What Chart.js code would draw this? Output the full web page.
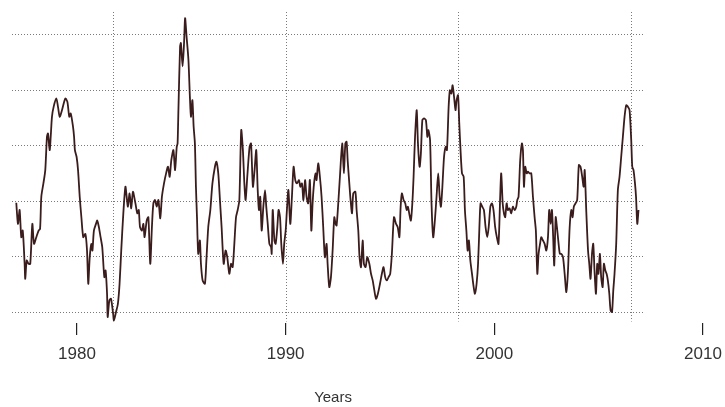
<!DOCTYPE html>
<html>
<head>
<meta charset="utf-8">
<script src="https://cdn.jsdelivr.net/npm/chart.js@4/dist/chart.umd.min.js"></script>
<style>
html,body{margin:0;padding:0;background:#fff;}
#c{display:block;}
</style>
</head>
<body>
<canvas id="c" width="725" height="407"></canvas>
<script>
// ---- data (decimal years, index level) ----
const years = [
1977.09,1977.17,1977.25,1977.33,1977.40,1977.49,1977.52,1977.59,1977.68,1977.76,1977.86,1977.94,
1978.05,1978.16,1978.23,1978.29,1978.39,1978.48,1978.56,1978.61,1978.69,1978.74,1978.80,1978.88,
1979.01,1979.09,1979.17,1979.28,1979.44,1979.54,1979.63,1979.70,1979.81,1979.86,1979.90,1979.98,
1980.05,1980.13,1980.21,1980.30,1980.40,1980.48,1980.54,1980.61,1980.69,1980.74,1980.81,1980.91,1980.97,
1981.05,1981.13,1981.21,1981.31,1981.37,1981.44,1981.47,1981.55,1981.63,1981.73,1981.77,1981.87,1981.96,
1982.04,1982.12,1982.22,1982.32,1982.38,1982.44,1982.52,1982.60,1982.68,1982.80,1982.89,1982.96,
1983.02,1983.11,1983.18,1983.24,1983.34,1983.42,1983.51,1983.59,1983.66,1983.74,1983.82,1983.90,1983.99,
1984.07,1984.17,1984.27,1984.36,1984.44,1984.52,1984.62,1984.70,1984.78,1984.82,1984.86,1984.94,1984.98,
1985.06,1985.13,1985.18,1985.25,1985.34,1985.41,1985.46,1985.53,1985.59,1985.65,1985.70,1985.75,1985.81,1985.89,1985.94,
1986.02,1986.13,1986.20,1986.29,1986.39,1986.49,1986.61,1986.68,1986.77,1986.85,1986.93,
1987.03,1987.12,1987.20,1987.30,1987.38,1987.46,1987.54,1987.62,1987.70,1987.78,1987.87,1987.95,
1988.02,1988.08,1988.16,1988.27,1988.34,1988.43,1988.51,1988.59,1988.66,1988.72,1988.78,1988.85,1988.93,
1989.01,1989.07,1989.14,1989.22,1989.30,1989.33,1989.38,1989.46,1989.52,1989.60,1989.66,1989.73,1989.79,1989.87,1989.93,
1990.00,1990.06,1990.13,1990.22,1990.30,1990.38,1990.46,1990.54,1990.64,1990.70,1990.78,1990.85,1990.93,
1991.00,1991.08,1991.16,1991.23,1991.29,1991.36,1991.44,1991.48,1991.56,1991.64,1991.72,1991.80,1991.88,1991.96,
1992.01,1992.09,1992.17,1992.25,1992.33,1992.39,1992.44,1992.52,1992.60,1992.71,1992.79,1992.86,1992.92,1992.97,
1993.05,1993.11,1993.18,1993.24,1993.34,1993.40,1993.48,1993.54,1993.61,1993.69,1993.75,1993.83,1993.91,
1994.01,1994.09,1994.17,1994.25,1994.33,1994.42,1994.52,1994.61,1994.69,1994.77,1994.85,1994.93,
1995.01,1995.09,1995.19,1995.29,1995.37,1995.45,1995.51,1995.57,1995.65,1995.73,1995.80,1995.86,1995.92,
1996.00,1996.07,1996.13,1996.20,1996.28,1996.34,1996.42,1996.48,1996.55,1996.63,1996.72,1996.79,1996.84,1996.92,1996.99,
1997.07,1997.15,1997.23,1997.31,1997.38,1997.44,1997.51,1997.59,1997.67,1997.73,1997.81,1997.87,1997.94,
1998.00,1998.07,1998.14,1998.19,1998.26,1998.32,1998.38,1998.45,1998.53,1998.59,1998.66,1998.72,1998.78,1998.85,1998.93,
1999.01,1999.07,1999.15,1999.22,1999.29,1999.34,1999.42,1999.50,1999.58,1999.66,1999.73,1999.81,1999.88,1999.96,
2000.04,2000.12,2000.20,2000.28,2000.33,2000.40,2000.46,2000.52,2000.59,2000.65,2000.73,2000.81,2000.89,2000.97,
2001.05,2001.10,2001.16,2001.24,2001.32,2001.37,2001.42,2001.48,2001.55,2001.61,2001.69,2001.77,2001.85,2001.93,2001.99,
2002.06,2002.12,2002.19,2002.25,2002.33,2002.41,2002.49,2002.57,2002.63,2002.70,2002.76,2002.82,2002.87,2002.94,
2003.00,2003.08,2003.14,2003.21,2003.29,2003.37,2003.45,2003.53,2003.61,2003.69,2003.75,2003.81,2003.89,2003.97,
2004.05,2004.13,2004.21,2004.28,2004.33,2004.41,2004.49,2004.55,2004.61,2004.68,2004.74,2004.80,2004.87,2004.93,2004.99,
2005.06,2005.12,2005.19,2005.25,2005.32,2005.38,2005.44,2005.51,2005.57,2005.64,2005.70,2005.76,2005.84,2005.92,
2006.00,2006.08,2006.16,2006.24,2006.32,2006.40,2006.48,2006.56,2006.61,2006.67,2006.74,2006.79,2006.85,2006.91
];
const values = [
1.96,1.58,1.83,1.34,1.46,0.86,0.59,0.92,0.86,0.86,1.58,1.22,
1.34,1.46,1.49,2.07,2.31,2.55,3.15,3.21,2.91,3.15,3.51,3.69,
3.84,3.69,3.51,3.63,3.84,3.78,3.51,3.57,3.33,3.15,2.91,2.79,
2.55,2.07,1.70,1.34,1.40,1.10,0.50,0.98,1.22,1.10,1.46,1.58,1.64,
1.52,1.34,1.16,0.62,0.74,0.32,-0.10,0.20,0.23,-0.04,-0.16,-0.01,0.14,
0.50,1.10,1.77,2.25,2.07,1.89,2.13,1.86,2.16,1.95,1.77,1.83,
1.52,1.46,1.58,1.34,1.64,1.70,0.86,1.52,1.95,2.01,1.89,2.01,1.68,
2.07,2.31,2.49,2.61,2.43,2.73,2.91,2.55,2.97,3.03,3.63,4.78,4.84,
4.42,4.84,5.29,4.96,4.54,3.87,3.51,3.81,3.33,3.03,2.25,1.70,1.04,1.28,0.86,
0.56,0.50,0.92,1.52,1.83,2.31,2.61,2.70,2.49,2.01,1.52,
0.86,1.10,0.98,0.68,0.86,0.80,1.22,1.70,1.83,2.01,3.27,2.91,
2.31,2.01,2.43,2.97,3.03,2.25,2.55,2.91,2.19,1.83,2.07,1.46,1.89,
2.19,1.89,1.58,1.22,1.16,1.04,1.83,1.28,1.22,1.52,1.83,1.70,1.22,0.86,1.22,
1.46,1.83,2.19,1.58,2.07,2.61,2.37,2.31,2.37,2.25,2.31,2.01,2.37,
2.07,1.95,2.37,1.46,1.95,2.31,2.49,2.37,2.67,2.43,2.07,1.52,0.98,1.22,
0.86,0.44,0.62,1.10,1.70,1.58,1.55,1.95,2.43,3.03,2.49,3.03,3.06,2.73,
2.31,2.01,1.77,2.13,2.16,1.83,1.46,0.98,0.80,1.28,0.86,0.80,0.98,
0.86,0.68,0.56,0.38,0.23,0.32,0.50,0.68,0.80,0.62,0.56,0.62,
0.68,1.04,1.70,1.58,1.52,1.34,1.89,2.13,2.01,1.95,1.83,1.89,1.77,
1.64,1.95,2.43,3.15,3.63,3.03,2.61,2.85,3.45,3.48,3.45,3.15,3.27,3.09,1.95,
1.34,1.64,2.07,2.49,2.07,1.89,2.25,2.79,2.97,2.91,3.69,3.99,3.93,
4.08,3.87,3.63,3.81,3.90,3.39,2.91,2.49,2.43,1.83,1.46,1.10,1.28,0.92,0.68,
0.44,0.32,0.50,0.86,1.58,1.95,1.89,1.83,1.52,1.34,1.52,1.89,1.95,1.83,
1.52,1.34,1.22,2.07,2.49,1.95,1.77,1.70,1.95,1.83,1.86,1.77,1.89,1.83,
1.89,2.01,2.07,2.73,3.03,2.91,2.25,2.61,2.49,2.52,2.49,2.49,2.07,1.70,1.46,
0.68,1.04,1.22,1.34,1.28,1.22,1.10,1.34,1.83,1.58,1.83,1.34,0.83,1.70,
1.52,1.22,1.04,1.04,0.98,0.68,0.35,0.74,1.52,1.83,1.70,1.89,1.95,2.01,
2.64,2.61,2.43,2.25,2.55,1.77,1.10,0.86,0.59,1.04,1.22,0.74,0.32,0.86,0.68,
1.04,0.62,0.44,0.86,0.74,0.68,0.56,0.32,0.02,-0.01,0.38,0.68,1.22,2.19,
2.43,2.79,3.15,3.51,3.72,3.69,3.63,3.09,2.61,2.55,2.31,2.07,1.58,1.83
];
const tickYears = [1980, 1990, 2000, 2010];
const gridLevels = [0, 1, 2, 3, 4, 5];
const gridYears = [1981.74, 1990, 1998.27, 2006.55];
const axisTitle = 'Years';

// ---- scale extents ----
const X_MIN = 1976.885, X_MAX = 2011.054;
const Y_MIN = -0.2, Y_MAX = 5.4;
const GRID_X_END = 2007.22;   // horizontal dotted lines end here
const GRID_Y_BOTTOM = -0.18;  // vertical dotted lines end here
const TITLE_CENTER_YEAR = 1992.27; // axis title is centred under the plotted panel

const dottedGrid = {
  id: 'dottedGrid',
  beforeDatasetsDraw(chart) {
    const {ctx, scales: {x, y}} = chart;
    ctx.save();
    ctx.strokeStyle = '#7a7a7a';
    ctx.lineWidth = 1;
    ctx.setLineDash([1, 2]);
    gridLevels.forEach(v => {
      const py = Math.round(y.getPixelForValue(v)) + 0.5;
      ctx.beginPath();
      ctx.moveTo(x.getPixelForValue(X_MIN), py);
      ctx.lineTo(x.getPixelForValue(GRID_X_END), py);
      ctx.stroke();
    });
    gridYears.forEach(v => {
      const px = Math.round(x.getPixelForValue(v)) + 0.5;
      ctx.beginPath();
      ctx.moveTo(px, y.getPixelForValue(Y_MAX));
      ctx.lineTo(px, y.getPixelForValue(GRID_Y_BOTTOM));
      ctx.stroke();
    });
    ctx.restore();
  }
};

const axisTitlePlugin = {
  id: 'axisTitlePlugin',
  afterDraw(chart) {
    const {ctx, scales: {x}} = chart;
    ctx.save();
    ctx.fillStyle = '#333';
    ctx.font = '15px "Liberation Sans", Arial, sans-serif';
    ctx.textAlign = 'center';
    ctx.textBaseline = 'middle';
    ctx.fillText(axisTitle, x.getPixelForValue(TITLE_CENTER_YEAR), x.bottom - 9);
    ctx.restore();
  }
};

new Chart(document.getElementById('c'), {
  type: 'line',
  data: {
    datasets: [{
      data: years.map((yr, i) => ({x: yr, y: values[i]})),
      borderColor: '#3b1c1c',
      borderWidth: 1.8,
      pointRadius: 0,
      tension: 0.25,
      fill: false
    }]
  },
  options: {
    responsive: false,
    animation: false,
    devicePixelRatio: 1,
    layout: {padding: {left: 12, right: 0, top: 12, bottom: 0}},
    plugins: {legend: {display: false}, tooltip: {enabled: false}},
    scales: {
      x: {
        type: 'linear',
        min: X_MIN,
        max: X_MAX,
        afterBuildTicks: axis => { axis.ticks = tickYears.map(v => ({value: v})); },
        ticks: {
          autoSkip: false,
          maxRotation: 0,
          padding: 2,
          color: '#333',
          font: {family: 'Liberation Sans, Arial, sans-serif', size: 17},
          callback: v => String(v)
        },
        grid: {
          drawOnChartArea: false, drawTicks: true, tickLength: 20,
          tickBorderDash: [12, 60], color: '#222', lineWidth: 1.2
        },
        border: {display: false},
        title: {
          display: true,
          text: axisTitle,
          color: 'rgba(0,0,0,0)',
          font: {family: 'Liberation Sans, Arial, sans-serif', size: 15},
          padding: {top: 22, bottom: 0}
        }
      },
      y: {display: false, min: Y_MIN, max: Y_MAX}
    }
  },
  plugins: [dottedGrid, axisTitlePlugin]
});
</script>
</body>
</html>
